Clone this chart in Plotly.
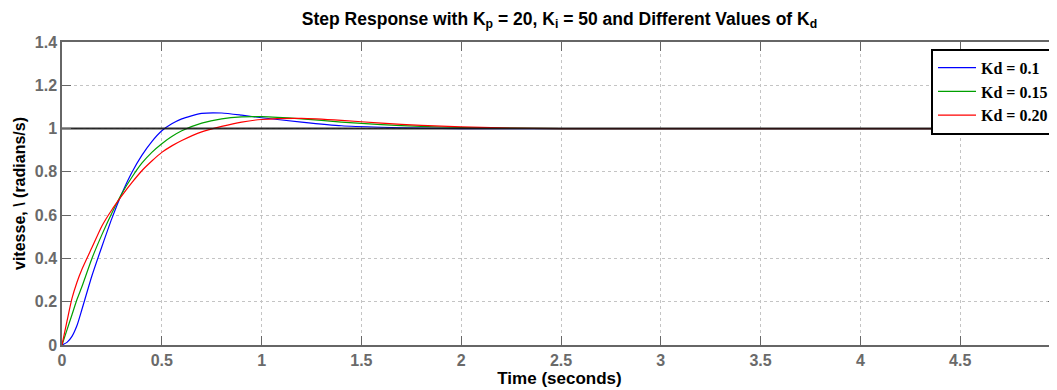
import plotly.graph_objects as go

# Time samples (s)
t = [0, 0.025, 0.05, 0.075, 0.1, 0.15, 0.2, 0.25, 0.3, 0.35, 0.4, 0.45, 0.5, 0.55, 0.6,
     0.7, 0.8, 0.9, 1.0, 1.2, 1.4, 1.6, 1.8, 2.0, 2.2, 2.5, 3.0, 4.0, 5.0]

# Step responses
y_kd_010 = [0, 0.012, 0.04, 0.09, 0.165, 0.32, 0.455, 0.585, 0.70, 0.797, 0.876, 0.94, 0.99, 1.022, 1.045,
            1.07, 1.072, 1.062, 1.05, 1.03, 1.013, 1.006, 1.002, 1.0, 1.0, 1.0, 1.0, 1.0, 1.0]
y_kd_015 = [0, 0.07, 0.14, 0.21, 0.27, 0.40, 0.51, 0.61, 0.70, 0.775, 0.84, 0.89, 0.93, 0.963, 0.99,
            1.025, 1.045, 1.054, 1.055, 1.045, 1.03, 1.018, 1.01, 1.005, 1.002, 1.0, 1.0, 1.0, 1.0]
y_kd_020 = [0, 0.11, 0.215, 0.29, 0.35, 0.45, 0.55, 0.625, 0.69, 0.75, 0.805, 0.85, 0.89, 0.92, 0.945,
            0.985, 1.01, 1.03, 1.042, 1.047, 1.038, 1.025, 1.015, 1.008, 1.003, 1.0, 1.0, 1.0, 1.0]

names = ["Kd = 0.1", "Kd = 0.15", "Kd = 0.20"]
colors = ["#0000ff", "#00a000", "#ff0000"]
series = [y_kd_010, y_kd_015, y_kd_020]

ref_t = [0, 5]
ref_y = [1, 1]

x_ticks = [0, 0.5, 1, 1.5, 2, 2.5, 3, 3.5, 4, 4.5]
y_ticks = [0, 0.2, 0.4, 0.6, 0.8, 1, 1.2, 1.4]

fig = go.Figure()
for i, (nm, col, ys) in enumerate(zip(names, colors, series)):
    fig.add_trace(go.Scatter(x=t, y=ys, mode="lines", name=nm,
                             line=dict(color=col, width=1.2, shape="spline", smoothing=0.6),
                             legendgroup=str(i)))
fig.add_trace(go.Scatter(x=ref_t, y=ref_y, mode="lines", showlegend=False,
                         line=dict(color="rgba(20,20,20,0.9)", width=2), hoverinfo="skip"))

tickfont = dict(family="Liberation Sans, Arial", size=16, color="#6a6a6a", weight="bold")
axis_common = dict(showline=True, linecolor="#666666", linewidth=1.5, mirror="ticks",
                   ticks="inside", ticklen=9, tickcolor="#666666", tickwidth=1,
                   showgrid=True, gridcolor="#c4c4c4", griddash="dot", gridwidth=1,
                   zeroline=False, tickfont=tickfont)

fig.update_xaxes(range=[0, 4.985], tickvals=x_ticks, ticktext=[str(v) for v in x_ticks],
                 title=dict(text="Time (seconds)", standoff=3,
                            font=dict(family="Liberation Sans, Arial", size=17, color="black", weight="bold")),
                 **axis_common)
fig.update_yaxes(range=[0, 1.4], tickvals=y_ticks, ticktext=["0", "0.2", "0.4", "0.6", "0.8", "1", "1.2", "1.4"],
                 title=dict(text="vitesse, \\ (radians/s)", standoff=5,
                            font=dict(family="Liberation Sans, Arial", size=16, color="black", weight="bold")),
                 **axis_common)

fig.add_annotation(x=5, y=0, xref="x", yref="y", text="5", showarrow=False,
                   yanchor="top", yshift=-3, font=tickfont)

# the page body adds an 8px margin, so the figure is 8px smaller on each side
fig.update_layout(
    width=1049, height=382,
    margin=dict(l=54, r=0, t=34, b=45, autoexpand=False),
    paper_bgcolor="white", plot_bgcolor="white",
    title=dict(text="Step Response with K<sub>p</sub> = 20, K<sub>i</sub> = 50 and Different Values of K<sub>d</sub>",
               x=0.5, xanchor="center", xref="paper", y=0.972, yanchor="middle", yref="container",
               font=dict(family="Liberation Sans, Arial", size=17.5, color="black", weight="bold")),
    legend=dict(x=0.998, y=0.978, xanchor="right", yanchor="top",
                bgcolor="white", bordercolor="black", borderwidth=2,
                font=dict(family="Liberation Serif, Times New Roman", size=16, color="black", weight="bold"),
                traceorder="grouped", tracegroupgap=0, itemwidth=38),
    showlegend=True,
)

fig.write_html("out.html")
